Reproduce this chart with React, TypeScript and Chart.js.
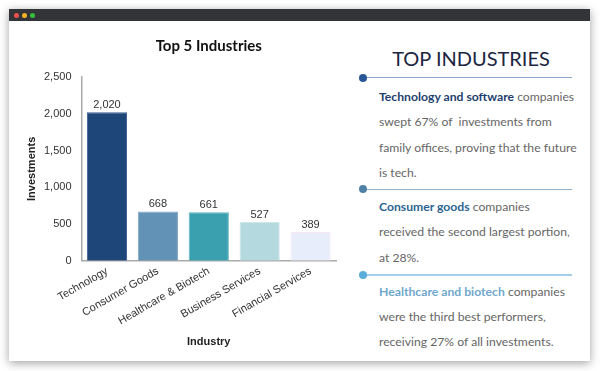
import React, { useEffect, useRef } from "react";
import { Chart, registerables } from "chart.js";

Chart.register(...registerables);

const categories = ["Technology", "Consumer Goods", "Healthcare & Biotech", "Business Services", "Financial Services"];
const investments = [2020, 668, 661, 527, 389];
const barColors = ["#1e4679", "#6292b6", "#3a9fae", "#b4d9df", "#e8edfb"];
const barBorders = ["#3a5f8f", "#7fa6c4", "#5db1bd", "#cfe6ea", "#f6e8ee"];
const yTicks = [0, 500, 1000, 1500, 2000, 2500];

const valueLabels = {
  id: "valueLabels",
  afterDatasetsDraw(chart: any) {
    const { ctx } = chart;
    const meta = chart.getDatasetMeta(0);
    const data = chart.data.datasets[0].data as number[];
    ctx.save();
    ctx.font = "11px 'Liberation Sans', Arial, sans-serif";
    ctx.fillStyle = "#333";
    ctx.textAlign = "center";
    ctx.textBaseline = "bottom";
    meta.data.forEach((el: any, i: number) => {
      ctx.fillText(data[i].toLocaleString("en-US"), el.x, el.y - 2);
    });
    ctx.restore();
  },
};

// centre the chart title over the plot area rather than the whole canvas
const titleOverPlot = {
  id: "titleOverPlot",
  afterLayout(chart: any) {
    const t = chart.titleBlock;
    if (t && chart.chartArea) {
      t.left = chart.chartArea.left;
      t.right = chart.chartArea.right;
      t.width = t.right - t.left;
    }
  },
};

function BarChart() {
  const ref = useRef<HTMLCanvasElement | null>(null);
  useEffect(() => {
    if (!ref.current) return;
    const chart = new Chart(ref.current, {
      type: "bar",
      data: {
        labels: categories,
        datasets: [
          {
            data: investments,
            backgroundColor: barColors,
            borderColor: barBorders,
            borderWidth: 1,
            barPercentage: 1,
            categoryPercentage: 0.79,
          },
        ],
      },
      options: {
        animation: false,
        responsive: false,
        maintainAspectRatio: false,
        layout: { padding: { left: -1, right: 14, top: 0, bottom: 4 } },
        plugins: {
          legend: { display: false },
          tooltip: { enabled: false },
          title: {
            display: true,
            text: "Top 5 Industries",
            color: "#111",
            font: { family: "Lato", size: 15, weight: "bold" },
            padding: { top: 7, bottom: 22 },
          },
        },
        scales: {
          x: {
            afterFit: (scale: any) => {
              scale.paddingLeft = 0;
              scale.paddingRight = 0;
            },
            grid: { display: false, drawTicks: false },
            border: { display: true, color: "#aaa", width: 1.5 },
            ticks: {
              color: "#333",
              font: { family: "'Liberation Sans', Arial", size: 11 },
              minRotation: 30,
              maxRotation: 30,
              padding: 4,
            },
            title: {
              display: true,
              text: "Industry",
              color: "#222",
              font: { family: "'Liberation Sans', Arial", size: 11, weight: "bold" },
              padding: { top: 4, bottom: 0 },
            },
          },
          y: {
            min: 0,
            max: 2500,
            afterBuildTicks: (axis: any) => {
              axis.ticks = yTicks.map((v) => ({ value: v }));
            },
            grid: { display: false, drawTicks: false },
            border: { display: true, color: "#aaa", width: 1.5 },
            ticks: {
              color: "#333",
              font: { family: "'Liberation Sans', Arial", size: 11 },
              padding: 10,
              callback: (v: any) => Number(v).toLocaleString("en-US"),
            },
            title: {
              display: true,
              text: "Investments",
              color: "#222",
              font: { family: "'Liberation Sans', Arial", size: 11, weight: "bold" },
              padding: { top: 6, bottom: -4.2 },
            },
          },
        },
      },
      plugins: [valueLabels, titleOverPlot],
    });
    return () => chart.destroy();
  }, []);
  return (
    <canvas
      ref={ref}
      width={330}
      height={323}
      style={{ position: "absolute", left: 20, top: 30, width: 330, height: 323 }}
    />
  );
}

const lato = "Lato, 'Noto Sans', sans-serif";

function Divider({ y, dot, line }: { y: number; dot: string; line: string }) {
  return (
    <>
      <div style={{ position: "absolute", left: 363, top: y - 0.75, width: 209, height: 1.5, background: line }} />
      <div
        style={{
          position: "absolute",
          left: 359,
          top: y - 4,
          width: 8,
          height: 8,
          borderRadius: "50%",
          background: dot,
        }}
      />
    </>
  );
}

const pStyle = (top: number): React.CSSProperties => ({
  position: "absolute",
  left: 379,
  top,
  fontFamily: lato,
  fontSize: 12.2,
  lineHeight: "25.3px",
  color: "#666",
  whiteSpace: "pre",
});

export default function App() {
  return (
    <div style={{ position: "absolute", left: 0, top: 0, width: 600, height: 371, background: "#fff", overflow: "hidden" }}>
      <div
        style={{
          position: "absolute",
          left: 9,
          top: 9,
          width: 581,
          height: 352,
          background: "#fff",
          boxShadow: "0 2px 9px rgba(0,0,0,0.38)",
        }}
      >
        <div style={{ position: "absolute", left: 0, top: 0, width: 581, height: 12, background: "#333437" }} />
        {["#ef5350", "#f5b224", "#34c13f"].map((c, i) => (
          <div
            key={c}
            style={{
              position: "absolute",
              left: 4.5 + i * 8,
              top: 3.5,
              width: 5,
              height: 5,
              borderRadius: "50%",
              background: c,
            }}
          />
        ))}
      </div>
      <BarChart />
      <div
        style={{
          position: "absolute",
          left: 371,
          width: 200,
          top: 44,
          textAlign: "center",
          fontFamily: lato,
          fontSize: 20,
          lineHeight: "28px",
          color: "#1c2541",
        }}
      >
        TOP INDUSTRIES
      </div>
      <Divider y={77.7} dot="#2a5597" line="#8ea9cc" />
      <div style={pStyle(84)}>
        <span style={{ fontWeight: 700, color: "#1e3f6e" }}>Technology and software</span> companies{"\n"}swept 67% of  investments from{"\n"}family offices, proving that the future{"\n"}is tech.
      </div>
      <Divider y={189.3} dot="#4f80a8" line="#8fb0cc" />
      <div style={pStyle(194)}>
        <span style={{ fontWeight: 700, color: "#2d6592" }}>Consumer goods</span> companies{"\n"}received the second largest portion,{"\n"}at 28%.
      </div>
      <Divider y={275} dot="#5aaedb" line="#a5cfe8" />
      <div style={pStyle(278.5)}>
        <span style={{ fontWeight: 700, color: "#6fa8cc" }}>Healthcare and biotech</span> companies{"\n"}were the third best performers,{"\n"}receiving 27% of all investments.
      </div>
    </div>
  );
}
